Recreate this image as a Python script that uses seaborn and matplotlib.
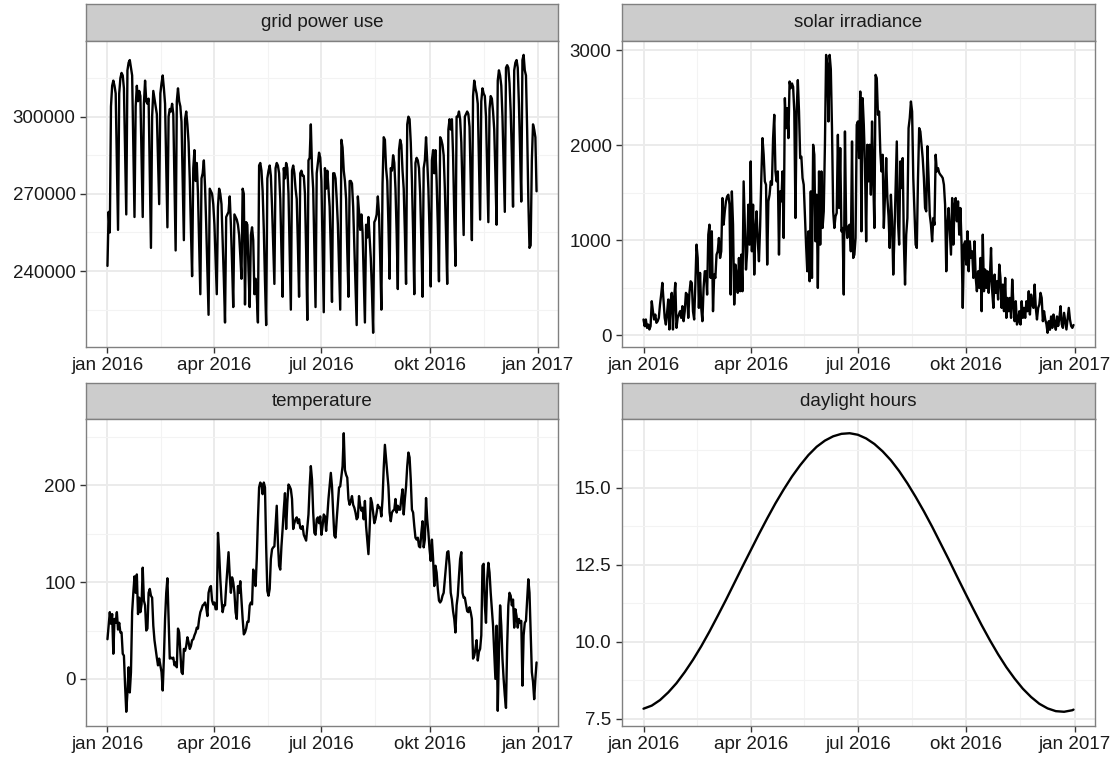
import numpy as np
import pandas as pd
import matplotlib
matplotlib.use("Agg")
import matplotlib.pyplot as plt
import matplotlib.dates as mdates
from matplotlib.ticker import FixedLocator, FixedFormatter, FuncFormatter
import seaborn as sns

sns.set_theme(style="white")
plt.rcParams["font.family"] = ["Liberation Sans", "DejaVu Sans"]

# ---------------------------------------------------------------- data
facet_titles = ["grid power use", "solar irradiance", "temperature", "daylight hours"]
x_tick_dates = ["2016-01-01", "2016-04-01", "2016-07-01", "2016-10-01", "2017-01-01"]
x_tick_labels = ["jan 2016", "apr 2016", "jul 2016", "okt 2016", "jan 2017"]

# daily grid power use in thousands (Fri 1 Jan, then Mon..Sun weeks)
grid_power_thousands = [
    242, 263, 255,
    304, 312, 314, 312, 309, 282, 256,
    309, 315, 317, 316, 311, 287, 262,
    318, 321, 322, 319, 316, 289, 261,
    304, 312, 306, 310, 308, 285, 261,
    305, 314, 306, 305, 307, 279, 249,
    300, 310, 307, 304, 301, 284, 266,
    309, 313, 316, 311, 305, 282, 257,
    300, 303, 302, 305, 301, 275, 248,
    306, 311, 306, 304, 298, 276, 252,
    299, 302, 297, 290, 276, 256, 238,
    280, 287, 275, 282, 270, 250, 231,
    276, 278, 283, 273, 258, 240, 223,
    272, 271, 270, 266, 258, 245, 231,
    265, 272, 270, 266, 252, 237, 220,
    261, 262, 263, 269, 258, 243, 226,
    262, 261, 260, 258, 254, 246, 237,
    272, 270, 227, 259, 258, 240, 226,
    254, 257, 252, 231, 237, 231, 220,
    281, 282, 279, 271, 256, 236, 219,
    276, 279, 281, 277, 265, 250, 235,
    280, 282, 281, 278, 268, 248, 230,
    280, 276, 282, 280, 270, 248, 225,
    279, 281, 278, 272, 268, 250, 230,
    278, 279, 277, 277, 270, 248, 221,
    283, 284, 297, 280, 272, 250, 226,
    278, 282, 286, 284, 275, 250, 224,
    280, 272, 279, 272, 265, 248, 228,
    278, 278, 276, 268, 258, 242, 225,
    291, 288, 279, 275, 268, 248, 230,
    275, 275, 274, 265, 250, 235, 219,
    269, 263, 256, 262, 255, 238, 220,
    258, 253, 261, 253, 245, 232, 216,
    259, 260, 262, 269, 262, 245, 225,
    274, 292, 291, 280, 275, 258, 237,
    280, 279, 285, 282, 272, 255, 233,
    287, 291, 289, 279, 272, 255, 235,
    297, 300, 299, 290, 275, 255, 231,
    282, 284, 283, 280, 270, 252, 230,
    280, 283, 292, 283, 272, 255, 234,
    283, 287, 278, 287, 275, 258, 236,
    292, 291, 289, 285, 272, 255, 235,
    295, 299, 295, 299, 285, 262, 242,
    300, 300, 302, 299, 290, 272, 254,
    300, 301, 302, 301, 296, 275, 252,
    308, 314, 311, 309, 305, 282, 260,
    306, 311, 309, 308, 300, 280, 259,
    303, 308, 307, 302, 295, 278, 258,
    314, 318, 316, 312, 300, 282, 263,
    319, 320, 319, 313, 302, 285, 265,
    318, 321, 322, 319, 305, 287, 267,
    322, 324, 318, 316, 295, 268, 249,
    250, 283, 297, 295, 292, 271,
]

solar_irradiance = [
    168, 98, 168, 80, 115, 63, 98, 360, 255, 168,
    220, 133, 150, 185, 325, 430, 553, 360, 185, 115,
    238, 378, 63, 360, 448, 63, 395, 553, 80, 185,
    220, 255, 185, 308, 150, 255, 448, 430, 185, 448,
    570, 553, 255, 168, 535, 955, 815, 290, 658, 290,
    150, 500, 675, 675, 430, 1060, 1165, 605, 1095, 255,
    640, 605, 850, 885, 1025, 815, 885, 1445, 1165, 1305,
    1410, 1462, 1480, 1375, 430, 1515, 1165, 325, 745, 640,
    448, 815, 465, 850, 465, 1620, 1165, 693, 885, 1375,
    955, 1830, 885, 1375, 640, 1113, 1305, 990, 780, 1148,
    1655, 2075, 1900, 1620, 1585, 745, 1410, 1480, 1620, 1585,
    2075, 2320, 1725, 1620, 1725, 850, 1515, 1410, 1725, 1025,
    2495, 2180, 2390, 2075, 2670, 2600, 2650, 2615, 2355, 1235,
    2355, 2685, 2355, 1865, 1880, 1655, 1585, 1270, 955, 675,
    1095, 570, 1515, 605, 2005, 1900, 990, 1480, 500, 1725,
    955, 1725, 1130, 1305, 2005, 2950, 2845, 2250, 2950, 2800,
    2180, 1305, 1130, 1253, 1288, 2110, 1340, 1970, 1095, 1130,
    430, 2145, 1165, 1025, 1148, 1165, 885, 2040, 815, 850,
    1025, 2215, 2250, 1865, 2565, 1095, 2495, 2215, 1795, 990,
    2005, 1620, 2005, 1480, 2250, 1655, 1130, 2740, 2705, 2320,
    2355, 1935, 1725, 1900, 1130, 1480, 1865, 1445, 1253, 920,
    1480, 1200, 640, 1060, 1550, 2040, 1200, 955, 1830, 1550,
    1865, 990, 535, 1060, 1235, 2180, 2285, 2460, 2355, 1655,
    1305, 955, 920, 1655, 2180, 2145, 2005, 1865, 1655, 1340,
    1305, 1990, 1655, 1270, 1165, 990, 1235, 1165, 1900, 1725,
    1760, 1710, 1690, 1675, 1655, 1585, 1375, 675, 1165, 1340,
    1095, 850, 1445, 955, 1358, 1445, 1200, 1410, 1060, 1340,
    955, 290, 955, 990, 745, 1095, 675, 990, 815, 885,
    605, 990, 605, 465, 675, 500, 815, 255, 1060, 465,
    693, 500, 675, 448, 605, 920, 465, 290, 640, 448,
    570, 378, 745, 605, 290, 535, 255, 605, 185, 395,
    255, 395, 185, 588, 325, 150, 360, 115, 150, 255,
    115, 360, 185, 290, 185, 360, 255, 465, 220, 430,
    325, 290, 535, 290, 168, 290, 325, 448, 395, 150,
    255, 168, 120, 28, 150, 60, 200, 80, 220, 130,
    60, 200, 100, 180, 308, 120, 80, 238, 150, 63,
    180, 290, 168, 100, 80, 110,
]

temperature = [
    41, 55, 69, 57, 67, 26, 62, 58, 69, 51,
    58, 48, 48, 26, 24, -7, -34, -14, 12, -14,
    7, 69, 89, 106, 89, 108, 67, 84, 69, 77,
    115, 81, 76, 50, 52, 89, 93, 86, 84, 55,
    40, 31, 22, 14, 21, 14, 7, -12, 21, 62,
    89, 104, 62, 21, 22, 21, 22, 14, 17, 12,
    52, 48, 27, 7, 5, 31, 29, 34, 43, 38,
    31, 34, 40, 41, 45, 48, 53, 52, 62, 69,
    72, 76, 77, 79, 74, 65, 89, 94, 96, 81,
    77, 79, 72, 72, 151, 131, 103, 82, 69, 76,
    76, 96, 113, 131, 107, 89, 105, 100, 89, 69,
    62, 96, 89, 101, 82, 62, 46, 48, 52, 59,
    59, 76, 79, 77, 113, 106, 96, 124, 165, 198,
    203, 201, 191, 203, 198, 137, 91, 86, 93, 124,
    134, 136, 137, 158, 179, 141, 117, 113, 137, 155,
    175, 192, 155, 182, 201, 199, 196, 186, 155, 161,
    165, 167, 161, 165, 156, 155, 158, 149, 146, 143,
    156, 170, 199, 220, 206, 172, 151, 149, 165, 167,
    161, 168, 149, 158, 170, 168, 153, 168, 186, 199,
    213, 199, 172, 148, 146, 165, 182, 198, 199, 210,
    220, 254, 216, 211, 208, 186, 180, 184, 189, 180,
    177, 172, 165, 167, 189, 179, 174, 177, 165, 184,
    158, 144, 129, 155, 187, 182, 172, 161, 165, 172,
    180, 177, 177, 168, 186, 218, 242, 227, 213, 199,
    172, 163, 172, 174, 175, 186, 172, 179, 175, 175,
    187, 196, 170, 186, 199, 220, 234, 229, 206, 175,
    172, 158, 146, 144, 146, 137, 136, 151, 163, 136,
    144, 187, 165, 151, 134, 122, 144, 124, 96, 117,
    110, 93, 81, 79, 81, 86, 89, 103, 117, 131,
    132, 117, 89, 82, 70, 62, 48, 76, 86, 106,
    124, 131, 89, 84, 84, 77, 70, 69, 74, 69,
    62, 21, 24, 31, 40, 19, 28, 31, 45, 117,
    119, 76, 58, 103, 120, 110, 89, 72, 55, 27,
    0, 55, -33, 27, 76, 55, 21, 0, -17, -30,
    34, 76, 89, 86, 76, 82, 53, 72, 65, 53,
    62, 58, 60, -7, 45, 58, 60, 82, 103, 89,
    48, 7, -3, -21, 0, 17,
]

# daylight hours, sampled weekly from 1 Jan plus 31 Dec
daylight_hours = [
    7.82, 7.92, 8.10, 8.35, 8.65, 9.01, 9.41, 9.85, 10.33, 10.84,
    11.36, 11.90, 12.44, 12.97, 13.50, 14.01, 14.50, 14.95, 15.37, 15.74,
    16.07, 16.34, 16.54, 16.68, 16.76, 16.78, 16.73, 16.61, 16.43, 16.19,
    15.90, 15.55, 15.15, 14.71, 14.24, 13.74, 13.21, 12.68, 12.13, 11.59,
    11.06, 10.54, 10.05, 9.59, 9.17, 8.80, 8.47, 8.20, 7.98, 7.83,
    7.74, 7.72, 7.77, 7.79,
]

# ---------------------------------------------------------------- frames
days = pd.date_range("2016-01-01", "2016-12-31", freq="D")
assert len(grid_power_thousands) == len(days), len(grid_power_thousands)
assert len(solar_irradiance) == len(days), len(solar_irradiance)
assert len(temperature) == len(days), len(temperature)

weekly = list(pd.date_range("2016-01-01", "2016-12-31", freq="7D")) + [pd.Timestamp("2016-12-31")]
assert len(weekly) == len(daylight_hours), len(weekly)

frames = [
    pd.DataFrame({"date": days, "value": np.array(grid_power_thousands) * 1000}),
    pd.DataFrame({"date": days, "value": solar_irradiance}),
    pd.DataFrame({"date": days, "value": temperature}),
    pd.DataFrame({"date": weekly, "value": daylight_hours}),
]

y_majors = [
    [240000, 270000, 300000],
    [0, 1000, 2000, 3000],
    [0, 100, 200],
    [7.5, 10.0, 12.5, 15.0],
]
y_fmt = ["{:.0f}", "{:.0f}", "{:.0f}", "{:.1f}"]

# ---------------------------------------------------------------- layout
W, H = 1118, 759
fig = plt.figure(figsize=(W / 100, H / 100), dpi=100)
fig.patch.set_facecolor("white")


def box(l, t, r, b):
    return [l / W, 1 - b / H, (r - l) / W, (b - t) / H]


cols = [(86, 558), (622, 1095)]
rows = [((4, 41), (41, 346.7)), ((383.3, 419.3), (419.3, 725.7))]

border = "#808080"
font_size = 13.5

xt = mdates.date2num(pd.to_datetime(x_tick_dates))
x_minor = [(a + b) / 2 for a, b in zip(xt[:-1], xt[1:])]

for i, df in enumerate(frames):
    r, c = divmod(i, 2)
    (st, sb), (pt, pb) = rows[r]
    l, rr = cols[c]

    # facet strip
    sax = fig.add_axes(box(l, st, rr, sb))
    sax.set_facecolor("#CCCCCC")
    sax.set_xticks([])
    sax.set_yticks([])
    for sp in sax.spines.values():
        sp.set_color(border)
        sp.set_linewidth(1.0)
    sax.text(0.5, 0.5, facet_titles[i], ha="center", va="center",
             fontsize=font_size, color="#1A1A1A", transform=sax.transAxes)

    # panel
    ax = fig.add_axes(box(l, pt, rr, pb))
    ax.set_facecolor("white")
    ax.set_axisbelow(True)
    sns.lineplot(data=df, x="date", y="value", ax=ax, color="black",
                 linewidth=1.7, estimator=None)
    ax.set_xlabel("")
    ax.set_ylabel("")

    xn = mdates.date2num(df["date"])
    x0, x1 = xn.min(), xn.max()
    span = x1 - x0
    ax.set_xlim(x0 - 0.05 * span, x1 + 0.05 * span)
    v = df["value"].to_numpy(dtype=float)
    vspan = v.max() - v.min()
    ax.set_ylim(v.min() - 0.05 * vspan, v.max() + 0.05 * vspan)

    ax.xaxis.set_major_locator(FixedLocator(xt))
    ax.xaxis.set_major_formatter(FixedFormatter(x_tick_labels))
    ax.xaxis.set_minor_locator(FixedLocator(x_minor))

    ym = y_majors[i]
    step = ym[1] - ym[0]
    lo, hi = ax.get_ylim()
    y_minor = [m + step / 2 for m in [ym[0] - step] + ym]
    y_minor = [m for m in y_minor if lo < m < hi]
    ax.yaxis.set_major_locator(FixedLocator(ym))
    fmt = y_fmt[i]
    ax.yaxis.set_major_formatter(FuncFormatter(lambda val, pos, f=fmt: f.format(val)))
    ax.yaxis.set_minor_locator(FixedLocator(y_minor))

    ax.grid(which="major", color="#EBEBEB", linewidth=1.4)
    ax.grid(which="minor", color="#F3F3F3", linewidth=0.8)
    ax.tick_params(which="major", length=4, width=1.0, color="#333333",
                   labelsize=font_size, labelcolor="#1A1A1A", pad=3.5,
                   bottom=True, left=True)
    ax.tick_params(which="minor", length=0)
    for sp in ax.spines.values():
        sp.set_color(border)
        sp.set_linewidth(1.0)

fig.savefig("out.png", dpi=100, facecolor="white")
